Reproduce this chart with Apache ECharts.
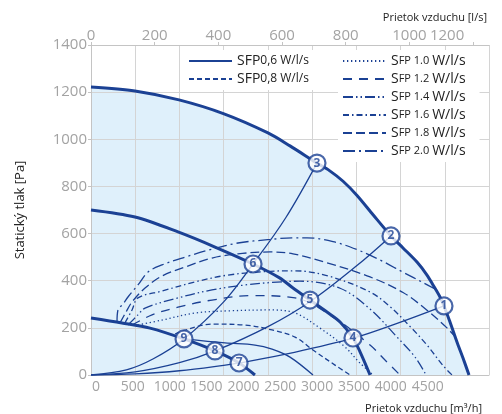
<!DOCTYPE html>
<html>
<head>
<meta charset="utf-8">
<script src="https://cdn.jsdelivr.net/npm/echarts@6/dist/echarts.min.js"></script>
<style>
  html, body { margin: 0; padding: 0; background: #fff; }
  #chart { width: 502px; height: 414px; }
</style>
</head>
<body>
<div id="chart"></div>
<script>
  // fan curves (thick), x = m3/h on the grid scale, y = Pa
  var fanMaxX = [0, 497, 995, 1504, 2001, 2250, 2555, 2700, 2850, 3008, 3189, 3392, 3528, 3686, 3799, 3867, 3946, 3991, 4059, 4138, 4206, 4274];
  var fanMaxY = [1222, 1205, 1167, 1108, 1027, 972, 899, 866, 822, 762, 680, 590, 539, 479, 424, 382, 331, 293, 225, 140, 72, 0];
  var fanMidX = [0, 497, 984, 1402, 1832, 2137, 2284, 2476, 2668, 2816, 2962, 3042, 3155];
  var fanMidY = [700, 670, 607, 543, 471, 411, 369, 318, 267, 225, 157, 98, 0];
  var fanMinX = [0, 350, 667, 1052, 1402, 1674, 1854];
  var fanMinY = [242, 221, 199, 153, 102, 51, 0];

  // system curves (thin, from origin)
  var sys1X = [0, 500, 1000, 1500, 1674, 2300, 2974, 3500, 3991];
  var sys1Y = [0, 5, 18, 41, 51, 96, 157, 224, 293];
  var sys2X = [0, 500, 1000, 1402, 2000, 2488, 3000, 3392];
  var sys2Y = [0, 13, 52, 102, 205, 314, 462, 590];
  var sys3X = [0, 400, 700, 1052, 1500, 1832, 2200, 2555];
  var sys3Y = [0, 22, 68, 153, 310, 471, 666, 899];

  // SFP iso-lines
  var sfp06X = [1052, 1515, 1854, 2047, 2250, 2510];
  var sfp06Y = [153, 136, 127, 110, 76, 0];
  var sfp08X = [950, 1368, 1741, 2047, 2307, 2510, 2759, 2929];
  var sfp08Y = [174, 216, 212, 191, 161, 106, 42, 0];
  var sfp10X = [531, 803, 1176, 1549, 2024, 2307, 2589, 2872, 3030, 3189];
  var sfp10Y = [212, 233, 263, 272, 276, 263, 199, 119, 55, 0];
  var sfp12X = [464, 690, 984, 1368, 1820, 2307, 2759, 3155, 3302, 3494];
  var sfp12Y = [212, 255, 288, 318, 337, 327, 240, 127, 72, 0];
  var sfp14X = [418, 531, 611, 984, 1368, 1741, 2024, 2363, 2816, 3155, 3460, 3664, 3788];
  var sfp14Y = [212, 255, 284, 327, 361, 382, 392, 398, 368, 280, 161, 76, 0];
  var sfp16X = [384, 464, 531, 803, 1176, 1549, 2024, 2307, 2702, 3155, 3381, 3607, 3799, 3980, 4082];
  var sfp16Y = [221, 276, 327, 356, 395, 424, 440, 442, 418, 352, 290, 206, 127, 40, 0];
  var sfp18X = [328, 396, 464, 611, 803, 1063, 1368, 1662, 2024, 2284, 2668, 3155, 3528, 3799, 4025, 4110];
  var sfp18Y = [221, 267, 310, 369, 420, 458, 496, 514, 522, 514, 476, 416, 350, 275, 200, 165];
  var sfp20X = [294, 305, 362, 418, 531, 645, 803, 1063, 1368, 1662, 2024, 2273, 2442, 2736, 3008, 3268, 3528, 3754, 3890];
  var sfp20Y = [225, 276, 301, 331, 382, 437, 467, 500, 534, 560, 575, 582, 582, 566, 532, 488, 436, 392, 365];

  // numbered operating points
  var pointNames = ['1', '2', '3', '4', '5', '6', '7', '8', '9'];
  var pointX = [3991, 3392, 2555, 2962, 2476, 1832, 1674, 1402, 1052];
  var pointY = [293, 590, 899, 157, 318, 471, 51, 102, 153];

  // tick labels
  var bottomTicks = [0, 500, 1000, 1500, 2000, 2500, 3000, 3500, 4000, 4500];

  var blue = '#1b4194';
  var labelGray = '#a3a3a3';
  var gridGray = '#d4d4d4';
  var font = 'Open Sans';

  function pairs(xs, ys) {
    return xs.map(function (x, i) { return [x, ys[i]]; });
  }

  function plain(v) { return String(v); }

  function thin(name, xs, ys, dash) {
    return {
      name: name,
      type: 'line',
      data: pairs(xs, ys),
      symbol: 'none',
      smooth: 0.35,
      lineStyle: { color: blue, width: 1.3, type: dash || 'solid' },
      itemStyle: { color: blue },
      z: 3
    };
  }

  function thick(name, xs, ys) {
    return {
      name: name,
      type: 'line',
      data: pairs(xs, ys),
      symbol: 'none',
      smooth: 0.3,
      lineStyle: { color: blue, width: 3 },
      z: 4
    };
  }

  var chart = echarts.init(document.getElementById('chart'));

  var legendBase = {
    orient: 'vertical',
    top: 50,
    padding: [4, 14, 4, 4],
    backgroundColor: '#fff',
    itemWidth: 43, itemHeight: 14, itemGap: 4,
    itemStyle: { opacity: 0 }
  };

  var option = {
    animation: false,
    textStyle: { fontFamily: font },
    title: [
      {
        text: 'Prietok vzduchu [l/s]',
        right: 10, top: 7,
        textStyle: { fontSize: 11, fontWeight: 'normal', color: '#222', fontFamily: font }
      },
      {
        text: 'Prietok vzduchu [m³/h]',
        right: 15, top: 398,
        textStyle: { fontSize: 11, fontWeight: 'normal', color: '#222', fontFamily: font }
      }
    ],
    grid: { left: 91, right: 13, top: 45, bottom: 39 },
    legend: [
      Object.assign({}, legendBase, {
        left: 184,
        data: ['SFP0,6 W/l/s', 'SFP0,8 W/l/s'],
        formatter: function (name) {
          return name.replace(/^SFP(.*)$/, '{a|SFP}{b|$1}');
        },
        textStyle: {
          color: '#222',
          rich: {
            a: { fontSize: 14, fontFamily: font, color: '#222' },
            b: { fontSize: 12, fontFamily: font, color: '#222' }
          }
        }
      }),
      Object.assign({}, legendBase, {
        left: 338,
        data: ['SFP 1.0 W/l/s', 'SFP 1.2 W/l/s', 'SFP 1.4 W/l/s', 'SFP 1.6 W/l/s', 'SFP 1.8 W/l/s', 'SFP 2.0 W/l/s'],
        formatter: function (name) {
          return name.replace(/^S(FP [\d.]+ )(.*)$/, '{a|S}{b|$1}{a|$2}');
        },
        textStyle: {
          color: '#222',
          rich: {
            a: { fontSize: 14, fontFamily: font, color: '#222' },
            b: { fontSize: 11, fontFamily: font, color: '#222' }
          }
        }
      })
    ],
    xAxis: [
      {
        type: 'value',
        position: 'bottom',
        min: 0, max: 4500, interval: 500,
        z: 1,
        axisLine: { lineStyle: { color: '#c4c4c4' } },
        axisTick: { show: false },
        axisLabel: { show: false },
        splitLine: { lineStyle: { color: gridGray } }
      },
      {
        // label axis for the m3/h numbers as they are printed
        type: 'value',
        position: 'bottom',
        min: -68, max: 5332,
        z: 1,
        axisLine: { show: false },
        axisTick: { show: false },
        splitLine: { show: false },
        axisLabel: {
          customValues: bottomTicks,
          formatter: plain,
          color: labelGray, fontSize: 14, margin: 5, fontFamily: font
        }
      },
      {
        type: 'value',
        position: 'top',
        min: 0, max: 1250, interval: 200,
        z: 1,
        axisLine: { lineStyle: { color: '#c4c4c4' } },
        axisTick: { show: true, length: 3, lineStyle: { color: '#c4c4c4' } },
        splitLine: { show: false },
        axisLabel: {
          showMaxLabel: false,
          color: labelGray, fontSize: 15, margin: 2, fontFamily: font,
          formatter: function (v) {
            if (v % 200 !== 0) return '';
            return v === 1200 ? '{s|1200}' : String(v);
          },
          rich: { s: { color: labelGray, fontSize: 15, fontFamily: font, padding: [0, 52, 0, 0] } }
        }
      }
    ],
    yAxis: {
      type: 'value',
      min: 0, max: 1400, interval: 200,
      z: 1,
      name: 'Statický tlak [Pa]',
      nameLocation: 'middle',
      nameGap: 64,
      nameTextStyle: { fontSize: 13, color: '#222', fontFamily: font },
      axisLine: { show: true, lineStyle: { color: '#c4c4c4' } },
      axisTick: { show: true, length: 3, lineStyle: { color: '#c4c4c4' } },
      axisLabel: { formatter: plain, color: labelGray, fontSize: 15, margin: 4, fontFamily: font },
      splitLine: { lineStyle: { color: gridGray } }
    },
    series: [
      {
        name: 'area',
        type: 'line',
        data: pairs(fanMaxX, fanMaxY),
        symbol: 'none',
        smooth: 0.3,
        lineStyle: { width: 0 },
        areaStyle: { color: '#dff0fb', opacity: 1 },
        z: 0
      },
      thin('sys1', sys1X, sys1Y),
      thin('sys2', sys2X, sys2Y),
      thin('sys3', sys3X, sys3Y),
      thin('SFP0,6 W/l/s', sfp06X, sfp06Y, 'solid'),
      thin('SFP0,8 W/l/s', sfp08X, sfp08Y, [5, 3]),
      thin('SFP 1.0 W/l/s', sfp10X, sfp10Y, [1.3, 2.7]),
      thin('SFP 1.2 W/l/s', sfp12X, sfp12Y, [9, 7]),
      thin('SFP 1.4 W/l/s', sfp14X, sfp14Y, [10, 3, 1.5, 3, 1.5, 3]),
      thin('SFP 1.6 W/l/s', sfp16X, sfp16Y, [6, 3, 1.5, 3]),
      thin('SFP 1.8 W/l/s', sfp18X, sfp18Y, [9, 4]),
      thin('SFP 2.0 W/l/s', sfp20X, sfp20Y, [12, 4, 2, 4]),
      thick('fanMax', fanMaxX, fanMaxY),
      thick('fanMid', fanMidX, fanMidY),
      thick('fanMin', fanMinX, fanMinY),
      {
        name: 'points',
        type: 'scatter',
        data: pointX.map(function (x, i) { return [x, pointY[i], pointNames[i]]; }),
        symbol: 'circle',
        symbolSize: 17,
        itemStyle: { color: '#fff', borderColor: blue, borderWidth: 2.2 },
        label: {
          show: true,
          position: 'inside',
          formatter: function (p) { return p.value[2]; },
          color: blue, fontSize: 12, fontWeight: 'bold', fontFamily: font
        },
        z: 6
      }
    ]
  };

  chart.setOption(option);
</script>
</body>
</html>
